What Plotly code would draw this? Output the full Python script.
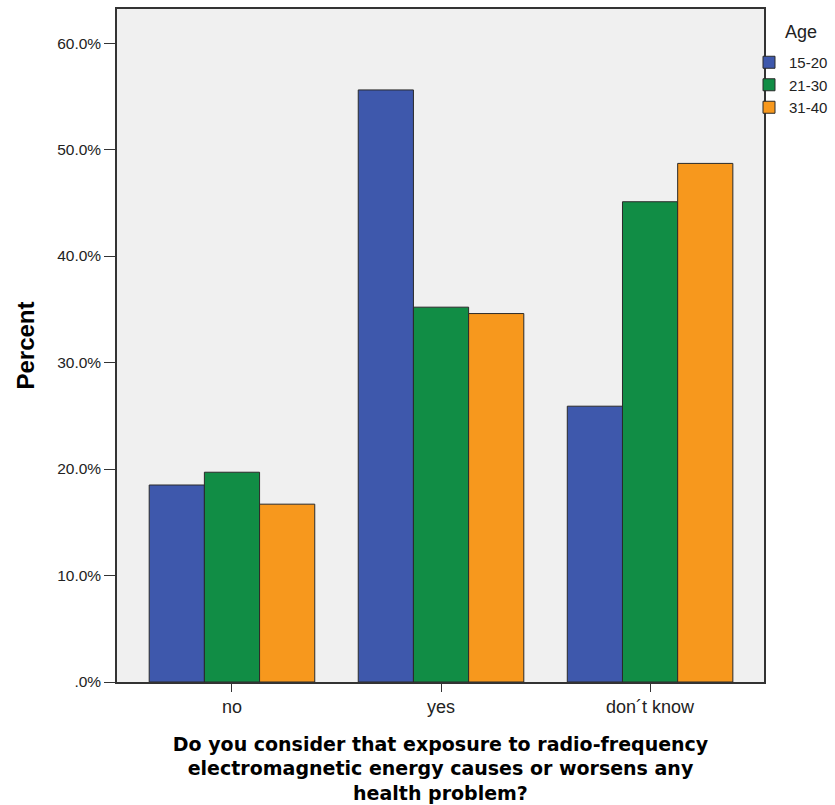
import plotly.graph_objects as go

categories = ["no", "yes", "don\u00b4t know"]
age_groups = ["15-20", "21-30", "31-40"]
pct_15_20 = [18.5, 55.6, 25.9]
pct_21_30 = [19.7, 35.2, 45.1]
pct_31_40 = [16.7, 34.6, 48.7]
series = [pct_15_20, pct_21_30, pct_31_40]
colors = ["#3E58AC", "#118D45", "#F7981D"]
tick_vals = [0, 10, 20, 30, 40, 50, 60]
tick_text = [".0%", "10.0%", "20.0%", "30.0%", "40.0%", "50.0%", "60.0%"]
x_title = ("Do you consider that exposure to radio-frequency<br>"
           "electromagnetic energy causes or worsens any<br>"
           "health problem?")
legend_title = "Age"

FONT = "Liberation Sans, Arial, sans-serif"
W, H = 835, 805
ML, MR, MT, MB = 117, 71, 9, 123
PLOT_W = W - ML - MR
PLOT_H = H - MT - MB

fig = go.Figure()
for name, vals, col in zip(age_groups, series, colors):
    fig.add_trace(go.Bar(
        x=categories, y=vals, name=name,
        marker=dict(color=col, line=dict(color="#2a2a2a", width=1)),
    ))

fig.add_annotation(
    text=legend_title, xref="paper", yref="paper",
    x=1 + 37 / PLOT_W, y=1, xanchor="center", yanchor="middle",
    yshift=-23, showarrow=False,
    font=dict(family=FONT, size=18, color="#222222"),
)

fig.update_layout(
    width=W, height=H,
    margin=dict(l=ML, r=MR, t=MT, b=MB, autoexpand=False),
    paper_bgcolor="white", plot_bgcolor="#F0F0F0",
    barmode="group", bargap=0.208, bargroupgap=0,
    font=dict(family=FONT, size=16, color="#222222"),
    legend=dict(
        x=1 - 15 / PLOT_W, y=1 - 37 / PLOT_H, xanchor="left", yanchor="top",
        font=dict(size=15), tracegroupgap=0, itemwidth=30,
        bgcolor="rgba(0,0,0,0)",
    ),
    xaxis=dict(
        title=dict(
            text="<b>" + x_title + "</b>",
            font=dict(family="DejaVu Sans, Verdana, sans-serif", size=19, color="black"),
            standoff=21,
        ),
        range=[-0.55, 2.545],
        showline=True, linecolor="#333333", linewidth=1.5, mirror=True,
        ticks="outside", ticklen=8, tickcolor="#333333",
        tickfont=dict(size=18),
        showgrid=False,
    ),
    yaxis=dict(
        title=dict(text="<b>Percent</b>", font=dict(size=24, color="black"), standoff=16),
        range=[0, 63.2],
        tickvals=tick_vals, ticktext=tick_text,
        tickfont=dict(size=15.5),
        showline=True, linecolor="#333333", linewidth=1.5, mirror=True,
        ticks="outside", ticklen=11, tickcolor="#333333",
        showgrid=False, zeroline=False,
    ),
)

fig.write_html(
    "out.html",
    config={"displayModeBar": False},
    post_script="document.body.style.margin='0';document.body.style.overflow='hidden';",
)
